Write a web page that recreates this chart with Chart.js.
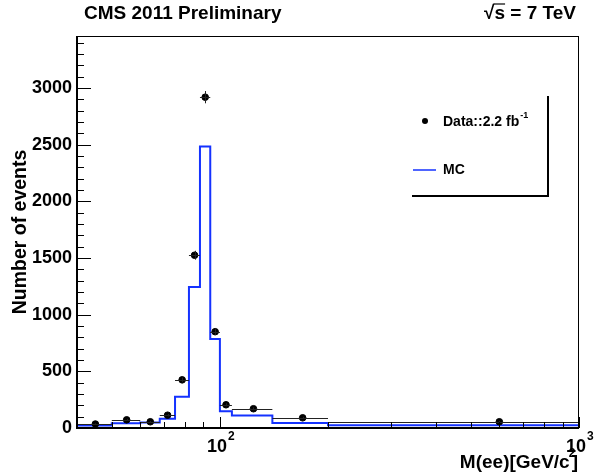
<!DOCTYPE html>
<html lang="en">
<head>
    <meta charset="UTF-8">
    <title>CMS 2011 Preliminary - M(ee)</title>
    <script src="https://cdn.jsdelivr.net/npm/chart.js"></script>
    <style>
        body {
            margin: 0;
            background: #ffffff;
        }
        #chart {
            display: block;
        }
    </style>
</head>
<body>
    <canvas id="chart" width="603" height="475"></canvas>

    <script>
        // bins in M(ee) [GeV/c^2]
        const binEdges = [40, 50, 60, 68, 75, 82, 88, 94, 100, 108, 140, 200, 1000];
        const dataCounts = [35, 72, 55, 113, 425, 1525, 2920, 850, 205, 170, 90, 55];
        const dataErrors = [6, 8, 7, 11, 21, 39, 54, 29, 14, 13, 9, 7];
        const mcCounts = [22, 41, 48, 82, 275, 1245, 2485, 785, 148, 110, 45, 25];

        const yTicks = [0, 500, 1000, 1500, 2000, 2500, 3000];
        const xMinorTicks = [50, 60, 70, 80, 90, 200, 300, 400, 500, 600, 700, 800, 900];
        const xMajorTicks = [100, 1000];
        const xTickExponents = { 100: "2", 1000: "3" };

        const FONT = "'Liberation Sans', Arial, Helvetica, sans-serif";
        const BLUE = "rgb(20, 50, 255)";

        // step histogram: each point holds its value until the next edge
        const mcPoints = mcCounts.map((v, i) => ({ x: binEdges[i], y: v }));
        mcPoints.push({ x: binEdges[binEdges.length - 1], y: mcCounts[mcCounts.length - 1] });

        // data markers sit at the middle of each bin
        const dataPoints = dataCounts.map((v, i) => ({ x: (binEdges[i] + binEdges[i + 1]) / 2, y: v }));

        const rootStyle = {
            id: "rootStyle",
            afterDatasetsDraw(chart) {
                const ctx = chart.ctx;
                const xs = chart.scales.x;
                const ys = chart.scales.y;
                ctx.save();
                ctx.strokeStyle = "#222";
                ctx.lineWidth = 1;
                for (let i = 0; i < dataCounts.length; i++) {
                    const y = Math.round(ys.getPixelForValue(dataCounts[i])) + 0.5;
                    const x1 = xs.getPixelForValue(binEdges[i]);
                    const x2 = xs.getPixelForValue(binEdges[i + 1]);
                    const xc = Math.round(xs.getPixelForValue(dataPoints[i].x)) + 0.5;
                    ctx.beginPath();
                    ctx.moveTo(x1, y);
                    ctx.lineTo(x2, y);
                    ctx.moveTo(xc, ys.getPixelForValue(dataCounts[i] - dataErrors[i]));
                    ctx.lineTo(xc, ys.getPixelForValue(dataCounts[i] + dataErrors[i]));
                    ctx.stroke();
                }
                ctx.restore();
            },
            afterDraw(chart) {
                const ctx = chart.ctx;
                const xs = chart.scales.x;
                const ys = chart.scales.y;
                const a = chart.chartArea;
                ctx.save();

                // frame
                ctx.strokeStyle = "#000";
                ctx.lineWidth = 1;
                ctx.strokeRect(a.left + 0.5, a.top + 0.5, a.right - a.left - 1, a.bottom - a.top - 1);
                ctx.lineWidth = 2;
                ctx.beginPath();
                ctx.moveTo(a.left, a.top);
                ctx.lineTo(a.left, a.bottom);
                ctx.lineTo(a.right, a.bottom);
                ctx.stroke();

                // y ticks, inside the frame
                ctx.lineWidth = 1;
                ctx.beginPath();
                for (let v = 0; v <= ys.max; v += 100) {
                    const y = Math.round(ys.getPixelForValue(v)) + 0.5;
                    const len = v % 500 === 0 ? 14 : 7;
                    ctx.moveTo(a.left, y);
                    ctx.lineTo(a.left + len, y);
                }
                // x ticks, inside the frame
                xMinorTicks.forEach(v => {
                    const x = Math.round(xs.getPixelForValue(v)) + 0.5;
                    ctx.moveTo(x, a.bottom);
                    ctx.lineTo(x, a.bottom - 6);
                });
                xMajorTicks.forEach(v => {
                    const x = Math.round(xs.getPixelForValue(v)) + 0.5;
                    ctx.moveTo(x, a.bottom);
                    ctx.lineTo(x, a.bottom - 11);
                });
                ctx.stroke();

                ctx.fillStyle = "#000";
                ctx.textBaseline = "middle";
                ctx.textAlign = "left";

                // x tick labels 10^n
                xMajorTicks.forEach(v => {
                    const x = xs.getPixelForValue(v);
                    ctx.font = "bold 18px " + FONT;
                    const w10 = ctx.measureText("10").width;
                    ctx.fillText("10", x - w10 / 2 - 3, 447);
                    ctx.font = "bold 12px " + FONT;
                    ctx.fillText(xTickExponents[v], x + w10 / 2 - 2, 437);
                });

                // x axis title
                ctx.font = "bold 19px " + FONT;
                const tMain = "M(ee)[GeV/c";
                const wb = ctx.measureText("]").width;
                const wm = ctx.measureText(tMain).width;
                const xEnd = 578;
                ctx.fillText(tMain, xEnd - wb - 2 - wm, 463);
                ctx.fillText("]", xEnd - wb, 463);
                ctx.font = "bold 12px " + FONT;
                ctx.fillText("2", xEnd - wb - 3, 454);

                // header texts
                ctx.font = "bold 19px " + FONT;
                ctx.fillText("CMS 2011 Preliminary", 84, 14);
                const right = "\u221as = 7 TeV";
                const w = ctx.measureText(right).width;
                const x0 = 576 - w;
                ctx.fillText(right, x0, 14);
                const ws = ctx.measureText("\u221a").width;
                const wss = ctx.measureText("s").width;
                ctx.lineWidth = 1.2;
                ctx.beginPath();
                ctx.moveTo(x0 + ws - 1, 4);
                ctx.lineTo(x0 + ws + wss, 4);
                ctx.stroke();

                // legend
                ctx.beginPath();
                ctx.arc(425, 121, 3, 0, Math.PI * 2);
                ctx.fill();
                ctx.font = "bold 14px " + FONT;
                ctx.fillText("Data::2.2 fb", 443, 122);
                const wd = ctx.measureText("Data::2.2 fb").width;
                ctx.font = "bold 9px " + FONT;
                ctx.fillText("-1", 443 + wd + 1, 116);
                ctx.strokeStyle = BLUE;
                ctx.lineWidth = 1.5;
                ctx.beginPath();
                ctx.moveTo(413, 170);
                ctx.lineTo(436, 170);
                ctx.stroke();
                ctx.font = "bold 14px " + FONT;
                ctx.fillText("MC", 443, 170);
                ctx.strokeStyle = "#000";
                ctx.lineWidth = 2;
                ctx.beginPath();
                ctx.moveTo(548, 96);
                ctx.lineTo(548, 196);
                ctx.lineTo(412, 196);
                ctx.stroke();

                ctx.restore();
            }
        };

        new Chart(document.getElementById("chart"), {
            type: "line",
            data: {
                datasets: [
                    {
                        type: "scatter",
                        label: "Data::2.2 fb-1",
                        data: dataPoints,
                        backgroundColor: "#000",
                        borderColor: "#000",
                        pointRadius: 3.3,
                        pointHoverRadius: 3.3
                    },
                    {
                        label: "MC",
                        data: mcPoints,
                        stepped: true,
                        borderColor: BLUE,
                        borderWidth: 2,
                        pointRadius: 0,
                        fill: false
                    }
                ]
            },
            options: {
                responsive: false,
                animation: false,
                devicePixelRatio: 1,
                layout: { padding: { top: 36, right: 24, left: 0, bottom: 0 } },
                plugins: {
                    legend: { display: false },
                    tooltip: { enabled: false }
                },
                scales: {
                    x: {
                        type: "logarithmic",
                        min: 40,
                        max: 1000,
                        grid: { display: false, drawTicks: false },
                        border: { display: false },
                        afterBuildTicks: scale => {
                            scale.ticks = xMajorTicks.map(v => ({ value: v }));
                        },
                        afterFit: scale => { scale.height = 47; },
                        ticks: {
                            autoSkip: false,
                            maxRotation: 0,
                            callback: () => ""
                        }
                    },
                    y: {
                        min: 0,
                        max: 3460,
                        grid: { display: false, drawTicks: false },
                        border: { display: false },
                        afterBuildTicks: scale => {
                            scale.ticks = yTicks.map(v => ({ value: v }));
                        },
                        afterFit: scale => { scale.width = 77; },
                        ticks: {
                            padding: 5,
                            color: "#000",
                            font: { family: FONT, size: 18, weight: "bold" },
                            callback: v => String(v)
                        },
                        title: {
                            display: true,
                            text: "Number of events",
                            color: "#000",
                            padding: { top: 9, bottom: 4 },
                            font: { family: FONT, size: 19.5, weight: "bold" }
                        }
                    }
                }
            },
            plugins: [rootStyle]
        });
    </script>
</body>
</html>
